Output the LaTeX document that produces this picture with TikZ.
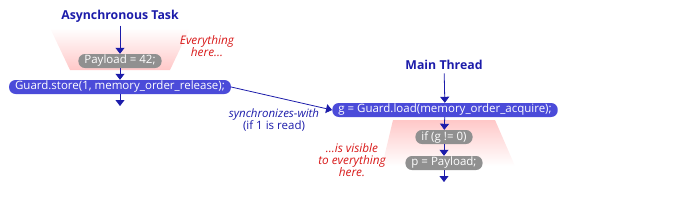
\documentclass[tikz,border=0pt]{standalone}
\usepackage{fontspec}
\setmainfont{Open Sans}
\usetikzlibrary{arrows.meta}
\definecolor{boxblue}{HTML}{4B4BD9}
\definecolor{boxgray}{HTML}{909090}
\definecolor{flowblue}{HTML}{1C1CAA}
\definecolor{notered}{HTML}{D81818}
\definecolor{fadepink}{HTML}{FFC8C8}
\begin{document}
\begin{tikzpicture}[x=1pt,y=-1pt,
    every node/.style={font=\fontsize{11.5}{13}\selectfont},
    stepbox/.style={rounded corners=6.5pt,text=white,inner xsep=6pt,inner ysep=0pt,minimum height=14pt},
    bluebox/.style={stepbox,fill=boxblue},
    graybox/.style={stepbox,fill=boxgray},
    title/.style={text=flowblue,font=\fontsize{12.3}{14}\selectfont\bfseries},
    note/.style={text=notered,align=center,font=\fontsize{11.8}{12}\selectfont\itshape},
    flow/.style={flowblue,thick,-{Triangle[width=9pt,length=6pt]}}]
    \useasboundingbox (0,0) rectangle (683,201);
    % fading zones
    \shade[top color=white,bottom color=fadepink] (50,28) -- (190,28) -- (170,70) -- (70,70) -- cycle;
    \shade[top color=fadepink,bottom color=white] (393,120) -- (495,120) -- (515,166) -- (382,166) -- cycle;
    % asynchronous task
    \node[title] (async) at (120,16) {Asynchronous Task};
    \node[graybox] (payload) at (120,61) {Payload = 42;};
    \node[bluebox] (store) at (120,87) {Guard.store(1, memory\_order\_release);};
    \coordinate (storeend) at (120,106);
    \draw[flow] (async) -- (payload);
    \draw[flow] (payload) -- (store);
    \draw[flow] (store) -- (storeend);
    \node[note] (everything) at (207,46) {Everything\\here...};
    % main thread
    \node[title] (main) at (444,65) {Main Thread};
    \node[bluebox] (load) at (445,110) {g = Guard.load(memory\_order\_acquire);};
    \node[graybox] (ifg) at (444,137) {if (g != 0)};
    \node[graybox] (pload) at (444,163) {p = Payload;};
    \coordinate (loadend) at (444,182);
    \draw[flow] (main) -- (load);
    \draw[flow] (load) -- (ifg);
    \draw[flow] (ifg) -- (pload);
    \draw[flow] (pload) -- (loadend);
    \node[note] (visible) at (352,160) {...is visible\\to everything\\here.};
    % synchronizes-with
    \draw[flow] (store.east) -- (load.west);
    \node[text=flowblue,align=center,font=\fontsize{11.5}{12.5}\selectfont] (sync) at (274,120) {\textit{synchronizes-with}\\(if 1 is read)};
\end{tikzpicture}
\end{document}
